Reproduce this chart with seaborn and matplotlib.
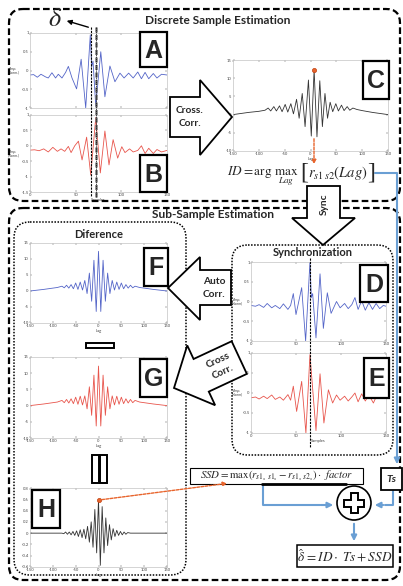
import numpy as np
import pandas as pd
import matplotlib
matplotlib.use("Agg")
import matplotlib.pyplot as plt
import seaborn as sns
from matplotlib.patches import FancyBboxPatch, Polygon, Rectangle, Circle

# ---------------- data ----------------
a_samples = [0, 4, 8, 12, 17, 20, 24, 28, 31, 35, 39, 42, 46, 51, 56, 61, 66, 67.5, 69, 72, 77.5, 82,
             87.5, 93, 98.5, 103, 108, 113, 118, 122, 126, 130, 135, 139, 144, 150]
a_values = [-0.12, -0.11, -0.18, -0.10, -0.17, -0.20, -0.06, -0.20, -0.10, -0.20, -0.05, 0.11, -0.20,
            -0.49, 0.30, -1.00, 0.95, 0.10, 0.25, -0.95, 0.50, -0.70, 0.12, -0.30, -0.07, -0.20, -0.07,
            -0.20, -0.04, -0.22, -0.05, -0.22, -0.08, -0.20, -0.10, -0.12]

b_samples = [0, 5, 10, 15, 20, 25, 30, 34, 38, 42, 45, 49, 53, 57, 62, 66.5, 72, 77, 82, 86.5, 91, 96,
             100.5, 104, 109, 113, 118, 122, 126, 130, 135, 139, 144, 150]
b_values = [-0.14, -0.13, -0.16, -0.10, -0.20, -0.05, -0.18, -0.10, -0.18, -0.02, -0.22, 0.00, 0.15,
            -0.46, 0.28, -0.95, 0.92, -0.88, 0.48, -0.62, 0.20, -0.40, -0.03, -0.22, -0.10, -0.20,
            -0.15, 0.00, -0.25, -0.08, -0.25, -0.12, -0.20, -0.15]

c_lags = [-150, -120, -100, -88, -82, -77, -71, -66, -60, -55, -49, -44, -38, -33, -27, -22, -16, -10.5,
          -4, 1.5, 7, 12.5, 18, 23, 28, 33, 38, 43, 49, 54, 60, 65, 71, 76, 82, 90, 100, 120, 150]
c_values = [0, 0.6, 0.9, 1.2, 1.8, 1.0, 2.2, 1.0, 2.4, 0.8, 2.8, 0.7, 3.0, 0.2, 4.2, -1.0, 5.8, -3.3,
            9.5, -5.9, 12.3, -6.1, 9.3, -3.3, 5.8, -1.0, 3.4, 0.8, 3.0, 1.0, 2.6, 1.1, 2.2, 1.2, 1.8,
            1.4, 1.1, 0.6, 0]
c_peak = (7, 12.3)

d_samples = [0, 5, 9, 14, 18, 23, 27, 32, 36, 41, 44, 47, 50, 56.3, 60.7, 65.5, 67, 68.5, 72.2, 76.7,
             80.4, 84.8, 89, 95, 99, 104, 108, 112, 115.5, 119, 123, 127, 131, 135, 139, 143, 147, 150]
d_values = [-0.10, -0.12, -0.08, -0.15, -0.05, -0.16, -0.10, -0.18, -0.06, -0.20, -0.10, 0.20, -0.33,
            0.35, -1.00, 1.00, 0.10, 0.20, -0.92, 0.70, -0.68, 0.22, -0.30, 0.00, -0.16, -0.05, -0.18,
            -0.08, 0.10, -0.20, 0.02, -0.22, -0.03, -0.20, -0.05, -0.18, -0.10, -0.12]

e_samples = [0, 5, 9, 14, 18, 23, 27, 32, 36, 41, 44, 47, 50.7, 56.3, 61, 65.5, 72.2, 76.7, 81, 86,
             90.7, 95, 99, 104, 108, 112, 115.5, 119, 123, 127, 131, 136, 139, 143, 147, 150]
e_values = [-0.12, -0.10, -0.15, -0.08, -0.14, -0.05, -0.16, -0.10, -0.18, -0.04, -0.18, 0.17, -0.46,
            0.29, -1.00, 0.96, -0.94, 0.48, -0.75, 0.08, -0.25, -0.05, -0.18, -0.08, -0.20, -0.10,
            0.00, -0.22, -0.02, -0.20, -0.05, -0.25, -0.10, -0.12, -0.08, -0.10]

f_lags = [-150, -120, -100, -90, -80, -75, -70, -65, -60, -55, -50, -45, -40, -35, -30, -25, -20, -15,
          -10, -5, 0, 5, 10, 15, 20, 25, 30, 35, 40, 45, 50, 55, 60, 65, 70, 75, 80, 90, 100, 120, 150]
f_values = [0, 0.5, 0.9, 1.1, 1.5, 1.0, 1.8, 0.9, 2.0, 0.7, 2.5, 0.5, 2.8, 0.3, 3.3, -0.8, 5.6, -3.2,
            9.6, -6.4, 12.4, -6.4, 9.6, -3.2, 5.6, -0.8, 3.3, 0.3, 2.8, 0.5, 2.5, 0.7, 2.0, 0.9, 1.8,
            1.0, 1.5, 1.1, 0.9, 0.5, 0]

g_lags = [-150, -120, -100, -90, -80, -75, -70, -65, -60, -55, -50, -45, -40, -35, -30, -25, -20, -15,
          -10, -5, 0, 5, 10, 15, 20, 25, 30, 35, 40, 45, 50, 55, 60, 65, 70, 75, 80, 90, 100, 120, 150]
g_values = [0, 0.5, 0.9, 1.1, 1.6, 0.9, 1.9, 0.8, 2.1, 0.6, 2.6, 0.4, 2.9, 0.2, 3.0, -1.0, 5.8, -3.0,
            9.4, -6.3, 12.2, -6.3, 9.4, -3.0, 5.8, -1.0, 3.0, 0.2, 2.9, 0.4, 2.6, 0.6, 2.1, 0.8, 1.9,
            0.9, 1.6, 1.1, 0.9, 0.5, 0]

h_lags = [-150, -80, -76, -72, -68, -64, -60, -56, -52, -48, -44, -40, -36, -32, -28, -24, -20, -16,
          -12, -8, -4, 0, 4, 8, 12, 16, 20, 24, 28, 32, 36, 40, 44, 48, 52, 56, 60, 64, 70, 150]
h_values = [0, 0, -0.01, 0.02, -0.02, 0.02, -0.03, 0.03, -0.04, 0.04, -0.06, 0.06, -0.08, 0.07, -0.10,
            0.12, -0.16, 0.20, -0.25, 0.42, -0.35, 0.59, -0.57, 0.47, -0.35, 0.27, -0.22, 0.15, -0.12,
            0.08, -0.06, 0.05, -0.04, 0.03, -0.03, 0.02, -0.02, 0.01, 0, 0]
h_peak = (0, 0.59)

sample_ticks = [0, 50, 100, 150]
lag_ticks = [-150, -100, -50, 0, 50, 100, 150]
amp_ticks = [-1, -0.5, 0, 0.5, 1]
amp_ticks_b = [-1.5, -1, -0.5, 0, 0.5, 1]
corr_ticks = [-10, -5, 0, 5, 10, 15]
diff_ticks = [-0.6, -0.4, -0.2, 0, 0.2, 0.4, 0.6, 0.8]

# ---------------- setup ----------------
sns.set_theme(style="white")
plt.rcParams["font.family"] = ["Lato", "DejaVu Sans"]
plt.rcParams["mathtext.fontset"] = "stix"

W, H = 403, 586
fig = plt.figure(figsize=(W / 100, H / 100), dpi=100)
fig.patch.set_facecolor("white")

BLUE = "#5465c8"
RED = "#e8554c"
BLACK = "#333333"
ORANGE = "#e8642c"
LINK = "#6a9fd4"


def px_axes(l, t, r, b):
    return fig.add_axes([l / W, 1 - b / H, (r - l) / W, (b - t) / H])


def fmt(v):
    return "%g" % v


def style(ax, xlim, ylim, xt, yt, xlab=True, xlabel="", ylabel=None, ylx=None):
    ax.set_xlim(xlim)
    ax.set_ylim(ylim)
    ax.set_xticks(xt)
    ax.set_yticks(yt)
    ax.set_xticklabels([fmt(v) for v in xt] if xlab else [])
    ax.set_yticklabels([fmt(v) for v in yt])
    ax.tick_params(direction="in", length=1.5, width=0.3, labelsize=3, pad=1,
                   colors="#444444", top=True, right=True, bottom=True, left=True)
    for s in ax.spines.values():
        s.set_color("#c4c4c4")
        s.set_linewidth(0.5)
    ax.set_xlabel(xlabel, fontsize=3, labelpad=0.5, color="#444444")
    ax.set_ylabel("")
    if ylabel:
        ax.text(ylx, 0.5, ylabel, transform=ax.transAxes, fontsize=2.6, ha="center",
                va="center", color="#444444", linespacing=0.9)


def draw(ax, x, y, color):
    df = pd.DataFrame({"x": x, "y": y})
    sns.lineplot(data=df, x="x", y="y", ax=ax, color=color, lw=0.6, sort=False)


axA = px_axes(30, 33, 167, 108)
draw(axA, a_samples, a_values, BLUE)
style(axA, (0, 150), (-1, 1), sample_ticks, amp_ticks, xlab=False, ylabel="Amp.\n(Norm.)", ylx=-0.12)

axB = px_axes(30, 115, 167, 192)
draw(axB, b_samples, b_values, RED)
style(axB, (0, 150), (-1.5, 1), sample_ticks, amp_ticks_b, xlabel="Samples", ylabel="Amp.\n(Norm.)", ylx=-0.12)

axC = px_axes(233, 60, 388, 151)
draw(axC, c_lags, c_values, BLACK)
axC.plot([c_peak[0]], [c_peak[1]], "o", ms=3, mfc=ORANGE, mec="#c04010", mew=0.5)
style(axC, (-150, 150), (-10, 15), lag_ticks, corr_ticks, xlabel="Lag")

axD = px_axes(251, 262, 386, 341)
draw(axD, d_samples, d_values, BLUE)
style(axD, (0, 150), (-1, 1), sample_ticks, amp_ticks, ylabel="Amp.\n(Norm)", ylx=-0.1)

axE = px_axes(251, 353, 386, 433)
draw(axE, e_samples, e_values, RED)
style(axE, (0, 150), (-1, 1), sample_ticks, amp_ticks, xlabel="Samples", ylabel="Amp.\n(Norm)", ylx=-0.1)

axF = px_axes(30, 243, 167, 323)
draw(axF, f_lags, f_values, BLUE)
style(axF, (-150, 150), (-10, 15), lag_ticks, corr_ticks, xlabel="Lag")

axG = px_axes(30, 357, 167, 438)
draw(axG, g_lags, g_values, RED)
style(axG, (-150, 150), (-10, 15), lag_ticks, corr_ticks, xlabel="Lag")

axH = px_axes(30, 488, 167, 567)
draw(axH, h_lags, h_values, BLACK)
axH.plot([h_peak[0]], [h_peak[1]], "o", ms=3, mfc=ORANGE, mec="#c04010", mew=0.5)
style(axH, (-150, 150), (-0.6, 0.8), lag_ticks, diff_ticks, xlabel="Lag")

# ---------------- overlay in pixel coordinates ----------------
ov = fig.add_axes([0, 0, 1, 1], zorder=10)
ov.set_xlim(0, W)
ov.set_ylim(H, 0)
ov.axis("off")
ov.patch.set_alpha(0)

# rounded group boxes
def rbox(x0, y0, x1, y1, ls, lw, r=14):
    ov.add_patch(FancyBboxPatch((x0, y0), x1 - x0, y1 - y0,
                                boxstyle="round,pad=0,rounding_size=%d" % r,
                                fc="none", ec="black", lw=lw, ls=ls, zorder=1))

rbox(9, 9, 400, 201, (0, (3, 1.5)), 1.6)
rbox(9, 208, 400, 580, (0, (3, 1.5)), 1.6)
rbox(14, 222, 186, 575, (0, (1, 1)), 1.1, r=16)
rbox(232, 245, 393, 455, (0, (1, 1)), 1.1, r=16)

ov.text(218, 20, "Discrete Sample Estimation", ha="center", va="center", fontsize=8.6, fontweight="bold")
ov.text(213, 214, "Sub-Sample Estimation", ha="center", va="center", fontsize=8.6, fontweight="bold")
ov.text(99, 235, "Diference", ha="center", va="center", fontsize=8, fontweight="bold")
ov.text(313, 253, "Synchronization", ha="center", va="center", fontsize=8, fontweight="bold")

# delta symbol and arrow
ov.text(55, 18, r"$\delta$", ha="center", va="center", fontsize=19)
ov.annotate("", xy=(64, 20), xytext=(91, 28),
            arrowprops=dict(arrowstyle="-|>", color="black", lw=1.0, mutation_scale=7))

# dashed vertical markers
ov.plot([90.7, 90.7], [27, 197], color="black", lw=0.8, ls=(0, (2, 1)))
ov.plot([96.2, 96.2], [27, 197], color="#777777", lw=1.8, ls=(0, (2, 1)))
ov.plot([96.2, 96.2], [27, 197], color="black", lw=0.5, ls=(0, (2, 1)))
ov.plot([310, 310], [258, 448], color="black", lw=0.8, ls=(0, (2, 1)))

# letter boxes
def letter(x0, y0, x1, y1, s):
    ov.add_patch(Rectangle((x0, y0), x1 - x0, y1 - y0, fc="white", ec="black", lw=1.6, zorder=3))
    ov.text((x0 + x1) / 2, (y0 + y1) / 2 + 1, s, ha="center", va="center", fontsize=18,
            fontweight="bold", family="Liberation Sans", zorder=4)

letter(140, 32, 167, 67, "A")
letter(140, 155, 167, 192, "B")
letter(363, 61, 389, 99, "C")
letter(360, 265, 388, 302, "D")
letter(364, 358, 389, 398, "E")
letter(144, 248, 168, 286, "F")
letter(140, 359, 167, 397, "G")
letter(32, 490, 60, 528, "H")

# block arrows
def block(pts, zorder=2):
    ov.add_patch(Polygon(pts, closed=True, fc="white", ec="black", lw=1.3, zorder=zorder))

block([(170, 97), (200, 97), (200, 80), (232, 117), (200, 155), (200, 137), (170, 137)])
ov.text(190, 117, "Cross.\nCorr.", ha="center", va="center", fontsize=7.3, fontweight="bold",
        linespacing=1.5, zorder=3)

block([(307, 186), (340, 186), (340, 218), (355, 218), (323, 245), (292, 218), (307, 218)])
ov.text(324, 204, "Sync", ha="center", va="center", fontsize=7.3, fontweight="bold", rotation=90, zorder=3)

block([(231, 270), (200, 270), (200, 257), (168, 288), (200, 320), (200, 305), (231, 305)])
ov.text(214, 288, "Auto\nCorr.", ha="center", va="center", fontsize=7.3, fontweight="bold",
        linespacing=1.5, zorder=3)

ang = np.deg2rad(25)
d = np.array([-np.cos(ang), np.sin(ang)])
n = np.array([np.sin(ang), np.cos(ang)])
tip = np.array([174.0, 388.0])
base = tip - 30 * d
back = tip - 72 * d
pts = [back - 18 * n, base - 18 * n, base - 33 * n, tip, base + 33 * n, base + 18 * n, back + 18 * n]
block([tuple(p) for p in pts])
mid = (back + base) / 2
ov.text(mid[0], mid[1], "Cross\nCorr.", ha="center", va="center", fontsize=7.3, fontweight="bold",
        rotation=25, linespacing=1.5, zorder=3)

# minus and equals signs
ov.add_patch(Rectangle((86, 343), 28, 5, fc="white", ec="black", lw=1.4))
ov.add_patch(Rectangle((92, 455), 7, 28, fc="white", ec="black", lw=1.4))
ov.add_patch(Rectangle((100, 455), 7, 28, fc="white", ec="black", lw=1.4))

# equations
ov.text(299, 176, r"$ID = \mathrm{arg}\ \max_{Lag}$", ha="right", va="center", fontsize=9.5)
ov.text(304, 173, "[", ha="center", va="center", fontsize=17, family="Liberation Serif")
ov.text(308, 173, r"$r_{s1\,s2}(Lag)$", ha="left", va="center", fontsize=10.5)
ov.text(371, 173, "]", ha="center", va="center", fontsize=17, family="Liberation Serif")
ov.add_patch(Rectangle((190, 468), 173, 16, fc="white", ec="black", lw=0.8, zorder=2))
ov.plot([262, 346], [484, 484], color="black", lw=2.0, zorder=3)
ov.text(277, 476, r"$SSD = \max(r_{s1_s\ s1_s} - r_{s1_s\ s2_s})\cdot\ factor$", ha="center",
        va="center", fontsize=7.8, zorder=3)
ov.add_patch(Rectangle((381, 468), 21, 22, fc="white", ec="black", lw=1.3, zorder=2))
ov.text(391.5, 479, "Ts", ha="center", va="center", fontsize=7.5, fontweight="bold",
        style="italic", zorder=3)
ov.add_patch(Rectangle((297, 545), 96, 22, fc="white", ec="black", lw=1.1, zorder=2))
ov.text(345, 556, r"$\hat{\delta}\, = ID\cdot\ Ts + SSD$", ha="center", va="center", fontsize=9.5, zorder=3)

# plus circle
ov.add_patch(Circle((354, 503), 17, fc="white", ec="black", lw=1.2, zorder=3))
a, b = 3.5, 10
cross = [(-a, -b), (a, -b), (a, -a), (b, -a), (b, a), (a, a), (a, b), (-a, b), (-a, a), (-b, a),
         (-b, -a), (-a, -a)]
ov.add_patch(Polygon([(354 + x, 503 + y) for x, y in cross], closed=True, fc="white", ec="black",
                     lw=1.4, zorder=4))

# blue connectors
ov.plot([375, 397, 397], [173, 173, 440], color=LINK, lw=1.5, zorder=1)
ov.annotate("", xy=(397, 467), xytext=(397, 438),
            arrowprops=dict(arrowstyle="-|>", color=LINK, lw=1.5, mutation_scale=8))
ov.plot([263, 263, 320], [485, 505, 505], color=LINK, lw=1.5, zorder=1)
ov.annotate("", xy=(336, 505), xytext=(318, 505),
            arrowprops=dict(arrowstyle="-|>", color=LINK, lw=1.5, mutation_scale=8))
ov.plot([393, 393, 385], [490, 505, 505], color=LINK, lw=1.5, zorder=1)
ov.annotate("", xy=(372, 505), xytext=(386, 505),
            arrowprops=dict(arrowstyle="-|>", color=LINK, lw=1.5, mutation_scale=8))
ov.annotate("", xy=(354, 544), xytext=(354, 521),
            arrowprops=dict(arrowstyle="-|>", color=LINK, lw=1.5, mutation_scale=8))

# orange dashed pointers
ov.annotate("", xy=(314, 167), xytext=(314, 136),
            arrowprops=dict(arrowstyle="-|>", color=ORANGE, lw=1.0, ls=(0, (2, 1)), mutation_scale=6))
ov.annotate("", xy=(230, 483), xytext=(99, 500),
            arrowprops=dict(arrowstyle="-|>", color=ORANGE, lw=1.0, ls=(0, (2, 1)), mutation_scale=6))

fig.savefig("out.png", dpi=100, facecolor="white")
